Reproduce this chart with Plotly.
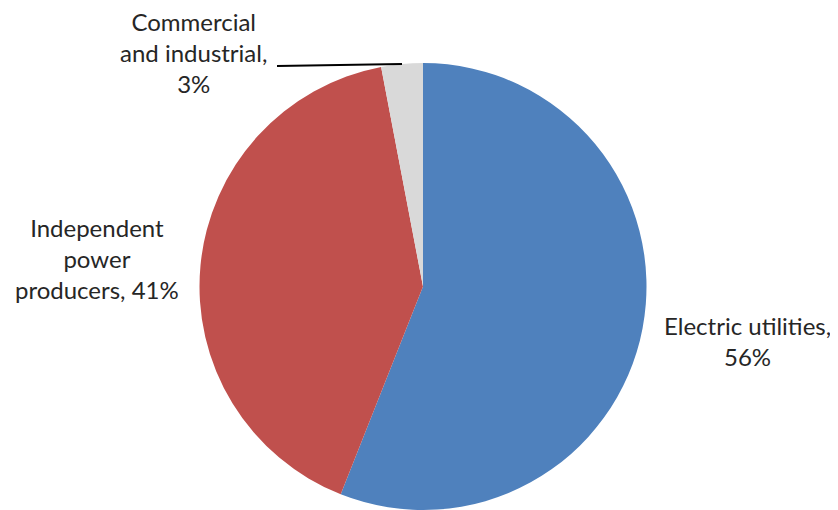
import plotly.graph_objects as go

categories = ["Electric utilities", "Independent power producers", "Commercial and industrial"]
shares = [56, 41, 3]
colors = ["#4F81BD", "#C0504D", "#D9D9D9"]
label_texts = [
    "Electric utilities,<br>56%",
    "Independent<br>power<br>producers, 41%",
    "Commercial<br>and industrial,<br>3%",
]

OFF = 8  # page body margin
W, H = 838 - OFF, 510 - OFF
cx, cy, r = 423, 287, 224


def px(x):
    return (x - OFF) / W


def py(y):
    return 1 - (y - OFF) / H


fig = go.Figure(go.Pie(
    labels=categories,
    values=shares,
    sort=False,
    direction="clockwise",
    rotation=0,
    marker=dict(colors=colors, line=dict(color="white", width=0)),
    textinfo="none",
    hoverinfo="label+percent",
    showlegend=False,
    domain=dict(x=[px(cx - r), px(cx + r)],
                y=[max(0, py(cy + r)), min(1, py(cy - r))]),
))

font = dict(family="Lato, Carlito, Calibri, sans-serif", size=24, color="#262626")
label_pos = [(747, 341), (97, 258), (193, 52)]
for txt, (x, y) in zip(label_texts, label_pos):
    fig.add_annotation(x=px(x), y=py(y), xref="paper", yref="paper", text=txt,
                       showarrow=False, font=font, align="center",
                       xanchor="center", yanchor="middle")

fig.add_shape(type="line", xref="paper", yref="paper",
              x0=px(277), y0=py(66), x1=px(402), y1=py(64),
              line=dict(color="black", width=2))

fig.update_layout(width=W, height=H, margin=dict(l=0, r=0, t=0, b=0),
                  paper_bgcolor="white", plot_bgcolor="white")
fig.write_html("out.html")
